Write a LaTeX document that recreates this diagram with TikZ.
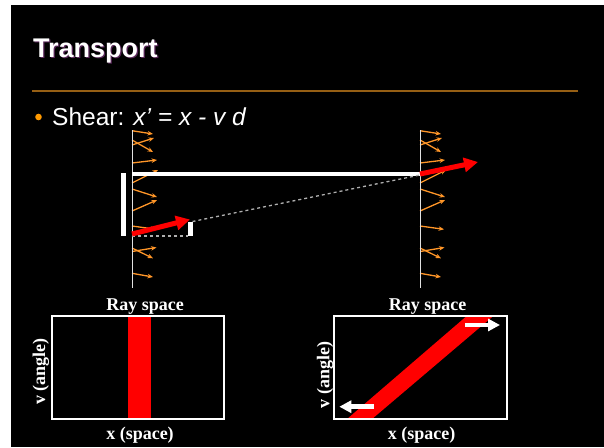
\documentclass[tikz,border=0pt]{standalone}
\usepackage{fontspec}
\setmainfont{Liberation Serif}
\newfontfamily\arialf{Liberation Sans}
\usetikzlibrary{arrows.meta}
\definecolor{rulec}{RGB}{150,95,20}
\definecolor{orng}{RGB}{255,150,40}
\definecolor{bullc}{RGB}{255,153,0}
\definecolor{shad}{RGB}{90,40,90}
\definecolor{rred}{RGB}{255,0,0}
\definecolor{dashg}{RGB}{175,175,175}
\definecolor{axisg}{RGB}{225,225,225}
\begin{document}
\begin{tikzpicture}[x=1pt,y=-1pt,
  lab/.style={text=white,font=\fontsize{18}{20}\selectfont\bfseries,inner sep=0},
  oarr/.style={orng,line width=1.3pt,-{Stealth[length=5.5pt,width=4.5pt]}},
  redarr/.style={rred,line width=5pt,-{Triangle[length=14pt,width=14pt]}},
  warr/.style={white,line width=4.5pt,-{Triangle[length=12pt,width=12pt]}},
  boxst/.style={draw=white,line width=2pt},
  dsh/.style={dashg,line width=1.3pt,dash pattern=on 3pt off 3pt},
  wbar/.style={white,line width=4.5pt}]
\useasboundingbox (0,0) rectangle (604,447);
\fill[white] (0,0) rectangle (604,447);
\fill[black] (11,5) rectangle (604,447);
% title
\node[anchor=base west,inner sep=0,text=shad,font=\arialf\bfseries\fontsize{27}{30}\selectfont] at (34.2,58.5) {Transport};
\node[anchor=base west,inner sep=0,text=white,font=\arialf\bfseries\fontsize{27}{30}\selectfont] (title) at (33,57.3) {Transport};
\draw[rulec,line width=1.6pt] (32,91) coordinate (r1) -- (578,91) coordinate (r2);
% bullet
\fill[bullc] (38.5,117) circle (3.3);
\node[anchor=base west,inner sep=0,text=white,font=\arialf\fontsize{24.5}{27}\selectfont] (shear) at (52,125) {Shear: \textit{x’ = x - v d}};
% orange ray fans
\foreach \X in {132,420}{
\begin{scope}[xshift=\X pt]
\draw[oarr] (0,130.7) -- (21,134);
\draw[oarr] (0,145) -- (22,138);
\draw[oarr] (0,140) -- (21,152);
\draw[oarr] (0,163) -- (25,160);
\draw[oarr] (0,183) -- (26,170);
\draw[oarr] (0,189) -- (25,197);
\draw[oarr] (0,211) -- (25,200);
\draw[oarr] (0,226) -- (24,229.3);
\draw[oarr] (0,251.5) -- (24.5,247.5);
\draw[oarr] (0,248) -- (21,258.3);
\draw[oarr] (0,273.3) -- (21,277);
\end{scope}}
% vertical planes
\draw[axisg,line width=1pt] (132,130) coordinate (pl1) -- (132,288) coordinate (pl2);
\draw[axisg,line width=1pt] (420,130) coordinate (pr1) -- (420,288) coordinate (pr2);
% white beam bar
\draw[white,line width=4pt] (132,173.5) coordinate (b1) -- (420,173.5) coordinate (b2);
% aperture bars
\draw[wbar] (123.5,173) coordinate (a1) -- (123.5,236) coordinate (a2);
\draw[white,line width=4.3pt] (190.5,222) coordinate (s1) -- (190.5,236) coordinate (s2);
% dashed
\draw[dsh] (132,236) coordinate (d1) -- (188,236) coordinate (d2);
\draw[dsh] (192.5,221.5) coordinate (d3) -- (420,175) coordinate (d4);
% red rays
\draw[redarr] (132,234) coordinate (ra1) -- (190,219.5) coordinate (ra2);
\draw[redarr] (420,174) coordinate (rb1) -- (478,162) coordinate (rb2);
% left ray-space box
\fill[rred] (128.3,316) rectangle (151,419.3);
\draw[boxst] (51.7,316) rectangle (224.3,419.3);
\node[lab,anchor=base] (t1) at (145,310) {Ray space};
\node[lab,anchor=base] (x1) at (140,439) {x (space)};
\node[lab,anchor=base,rotate=90] (v1) at (45,371.7) {v (angle)};
% right ray-space box
\begin{scope}
\clip (334,316) rectangle (507.3,419.3);
\fill[rred] (346.7,419.3) -- (371.7,419.3) -- (493.3,316) -- (466.7,316) -- cycle;
\end{scope}
\draw[boxst] (334,316) rectangle (507.3,419.3);
\node[lab,anchor=base] (t2) at (427.7,310) {Ray space};
\node[lab,anchor=base] (x2) at (421.7,439) {x (space)};
\node[lab,anchor=base,rotate=90] (v2) at (329.3,375) {v (angle)};
\draw[warr] (465,325) coordinate (w1) -- (500,325) coordinate (w2);
\draw[warr] (374,406.7) coordinate (w3) -- (339.3,406.7) coordinate (w4);
\end{tikzpicture}
\end{document}
